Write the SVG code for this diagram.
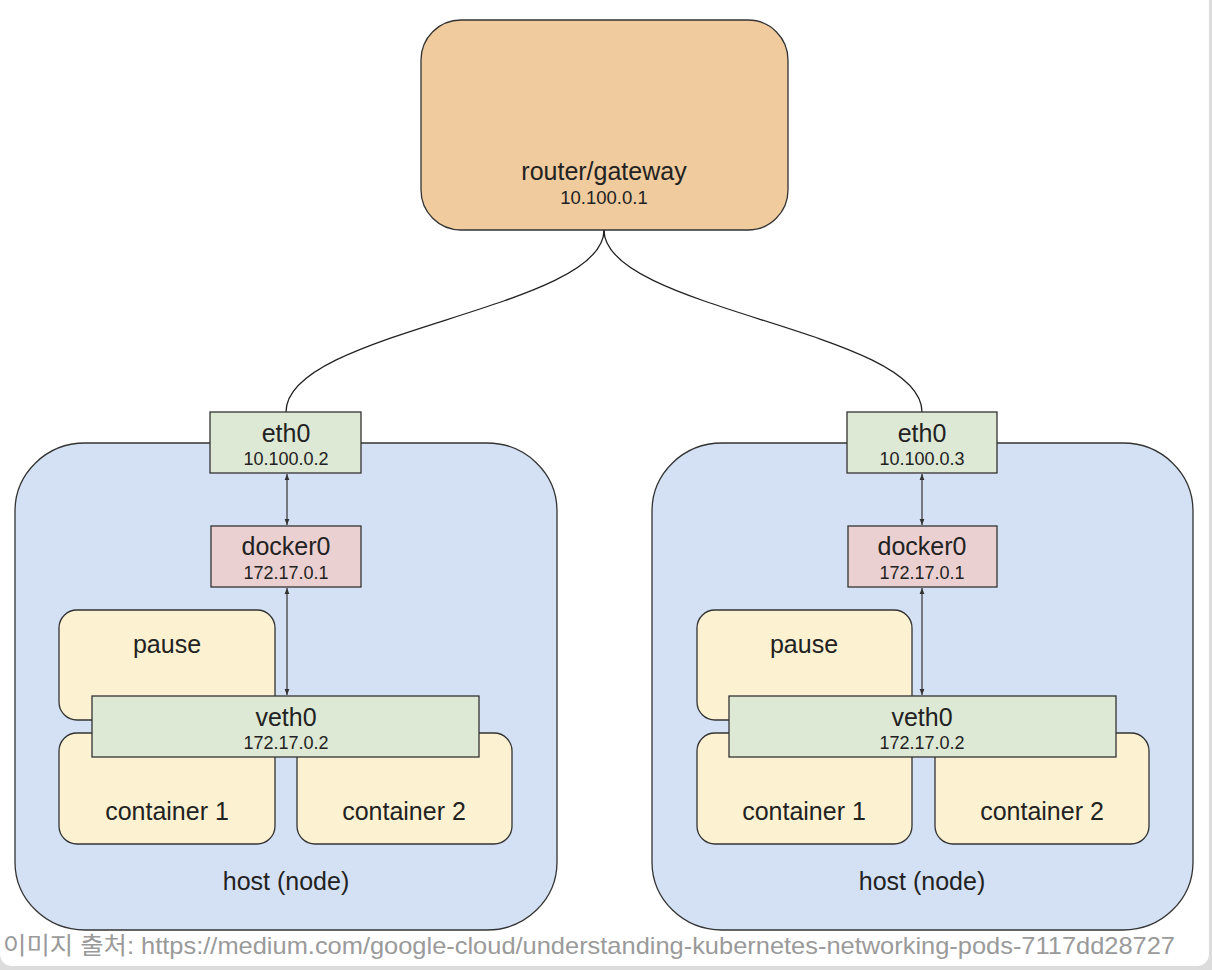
<svg xmlns="http://www.w3.org/2000/svg" width="1212" height="970" viewBox="0 0 1212 970">
<defs>
<style>
.t{font-family:"Liberation Sans",Arial,sans-serif;fill:#222;text-anchor:middle}
.big{font-size:25px}
.sm{font-size:18px}
.host{fill:#d4e1f4;stroke:#333;stroke-width:1.3}
.router{fill:#efcb9e;stroke:#333;stroke-width:1.3}
.green{fill:#dde8d5;stroke:#333;stroke-width:1.3}
.pink{fill:#ebd0d1;stroke:#333;stroke-width:1.3}
.yellow{fill:#fcf1d1;stroke:#333;stroke-width:1.3}
.wire{fill:none;stroke:#222;stroke-width:1.3}
.link{fill:none;stroke:#333;stroke-width:1.2;marker-start:url(#ah);marker-end:url(#ah)}
</style>
<marker id="ah" viewBox="0 0 10 10" refX="10" refY="5" markerWidth="6" markerHeight="6" orient="auto-start-reverse" markerUnits="userSpaceOnUse">
<path d="M0,1 L10,5 L0,9 Z" fill="#333"/>
</marker>
</defs>
<rect x="0" y="0" width="1212" height="970" fill="#dcdcdc"/>
<rect x="0" y="-12" width="1209" height="978" rx="12" fill="#ffffff"/>

<g id="host-left">
<rect class="host" x="15" y="443" width="542" height="487" rx="70" ry="68"/>
<text class="t big" x="286" y="890">host (node)</text>
</g>
<g id="host-right">
<rect class="host" x="652" y="443" width="541" height="487" rx="70" ry="68"/>
<text class="t big" x="922" y="890">host (node)</text>
</g>

<g id="connectors">
<path class="wire" d="M604,230 C604,310 286,330 286,412"/>
<path class="wire" d="M604,230 C604,310 922,330 922,412"/>
<path class="link" d="M287,474 L287,525"/>
<path class="link" d="M287,588 L287,695"/>
<path class="link" d="M922,474 L922,525"/>
<path class="link" d="M922,588 L922,695"/>
</g>

<g id="router">
<rect class="router" x="421" y="20" width="367" height="210" rx="40"/>
<text class="t big" x="604" y="180">router/gateway</text>
<text class="t" style="font-size:18.5px" x="604" y="204">10.100.0.1</text>
</g>

<g id="eth0-left">
<rect class="green" x="210" y="412" width="151" height="61"/>
<text class="t big" x="286" y="442">eth0</text>
<text class="t sm" x="286" y="465">10.100.0.2</text>
</g>
<g id="docker0-left">
<rect class="pink" x="211" y="526" width="150" height="61"/>
<text class="t big" x="286" y="555">docker0</text>
<text class="t sm" x="286" y="579">172.17.0.1</text>
</g>
<g id="pause-left">
<rect class="yellow" x="59" y="610" width="216" height="110" rx="18"/>
<text class="t big" x="167" y="653">pause</text>
</g>
<g id="container1-left">
<rect class="yellow" x="59" y="733" width="216" height="111" rx="18"/>
<text class="t big" x="167" y="820">container 1</text>
</g>
<g id="container2-left">
<rect class="yellow" x="297" y="733" width="215" height="111" rx="18"/>
<text class="t big" x="404" y="820">container 2</text>
</g>
<g id="veth0-left">
<rect class="green" x="92" y="696" width="387" height="61"/>
<text class="t big" x="286" y="726">veth0</text>
<text class="t sm" x="286" y="749">172.17.0.2</text>
</g>

<g id="eth0-right">
<rect class="green" x="847" y="412" width="150" height="61"/>
<text class="t big" x="922" y="442">eth0</text>
<text class="t sm" x="922" y="465">10.100.0.3</text>
</g>
<g id="docker0-right">
<rect class="pink" x="848" y="526" width="149" height="61"/>
<text class="t big" x="922" y="555">docker0</text>
<text class="t sm" x="922" y="579">172.17.0.1</text>
</g>
<g id="pause-right">
<rect class="yellow" x="697" y="610" width="215" height="110" rx="18"/>
<text class="t big" x="804" y="653">pause</text>
</g>
<g id="container1-right">
<rect class="yellow" x="697" y="733" width="215" height="111" rx="18"/>
<text class="t big" x="804" y="820">container 1</text>
</g>
<g id="container2-right">
<rect class="yellow" x="935" y="733" width="214" height="111" rx="18"/>
<text class="t big" x="1042" y="820">container 2</text>
</g>
<g id="veth0-right">
<rect class="green" x="729" y="696" width="387" height="61"/>
<text class="t big" x="922" y="726">veth0</text>
<text class="t sm" x="922" y="749">172.17.0.2</text>
</g>

<g id="caption">
<text x="3" y="954" style="font-family:'Liberation Sans','Noto Sans CJK KR',sans-serif;font-size:24px;fill:#9a9a9a" textLength="1172" lengthAdjust="spacingAndGlyphs">이미지 출처: https://medium.com/google-cloud/understanding-kubernetes-networking-pods-7117dd28727</text>
</g>
</svg>
